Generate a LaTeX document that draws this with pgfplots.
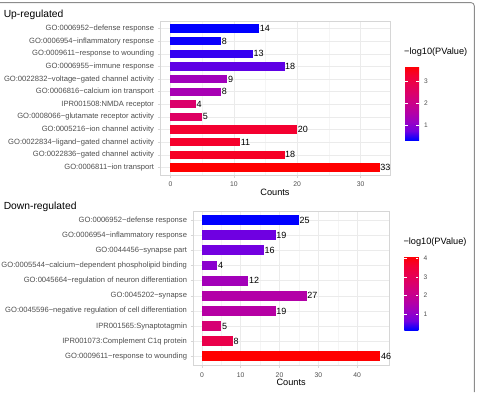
\documentclass[border=0pt]{standalone}
\usepackage{pgfplots}
\pgfplotsset{compat=1.18}
\usepackage{fontspec}
\setmainfont{Liberation Sans}

\definecolor{txtgray}{HTML}{4D4D4D}
\definecolor{gridmaj}{HTML}{EBEBEB}
\definecolor{gridmin}{HTML}{F5F5F5}
\definecolor{panelborder}{HTML}{D6D6D6}
\definecolor{framegray}{HTML}{8C8C8C}

\pgfplotsset{
  colormap={bluered}{rgb255=(0,0,255) rgb255=(115,0,224) rgb255=(154,0,195)
    rgb255=(181,0,165) rgb255=(202,0,137) rgb255=(218,0,108) rgb255=(232,0,79)
    rgb255=(244,0,49) rgb255=(255,0,0)},
  gopanel/.style={
    scale only axis, anchor=south west, clip=false,
    xbar, bar width=0.65,
    colormap name=bluered,
    axis line style={draw=panelborder, line width=0.6pt},
    grid=both,
    major grid style={draw=gridmaj, line width=0.5pt},
    minor grid style={draw=gridmin, line width=0.35pt},
    minor x tick num=1,
    tick align=outside,
    major tick length=2.5pt, minor tick length=0pt,
    tick style={draw=panelborder, line width=0.5pt},
    xtick pos=bottom, ytick pos=left,
    /pgf/number format/assume math mode=true,
    yticklabel style={font=\fontsize{7.6}{8}\selectfont, text=txtgray, inner sep=0pt, xshift=-3.3pt},
    xticklabel style={font=\fontsize{6.8}{7}\selectfont, text=txtgray, inner sep=0pt, yshift=-4.2pt},
    xlabel={Counts},
    xlabel style={font=\fontsize{9.2}{10}\selectfont, at={(axis description cs:0.5,0)},
      anchor=center, inner sep=0pt, yshift=-17.2pt},
    point meta=explicit,
    visualization depends on={x \as \cnt},
    nodes near coords={\pgfmathprintnumber[fixed, precision=0]{\cnt}},
    every node near coord/.append style={font=\fontsize{9}{10}\selectfont, text=black,
      anchor=west, inner sep=0.5pt},
    colorbar,
    colorbar style={
      scale only axis,
      at={(parent axis.north east)}, anchor=north west,
      xshift=6.5pt, yshift=-45pt,
      width=14pt, height=74pt,
      axis line style={draw=none},
      tick align=inside, ytick pos=both, yticklabel pos=right,
      major tick length=2.8pt,
      tick style={draw=white, line width=0.5pt},
      yticklabel style={font=\fontsize{6.6}{7}\selectfont, text=txtgray, inner sep=0pt, xshift=5pt},
      /pgf/number format/assume math mode=true,
      title={−log10(PValue)},
      title style={at={(0,1)}, anchor=south west, inner sep=0pt, xshift=-1pt, yshift=3.5pt,
        font=\fontsize{9.2}{10}\selectfont},
    },
  },
  % one bar; its fill is the colormap colour at position #1 (0..1000),
  % i.e. (-log10 p - min)/(max - min) scaled to 1000
  gobar/.style={xbar, bar shift=0pt, fill, draw=none, color of colormap={#1 of bluered}},
}

\begin{document}
\begin{tikzpicture}
% Up-regulated terms: (count, row) [-log10 p], range 0.36 .. 3.67
\begin{axis}[gopanel,
  at={(160pt,217pt)}, width=230pt, height=154pt,
  xmin=-1.65, xmax=34.65, ymin=0.4, ymax=12.6,
  xtick={0,10,20,30},
  ytick={1,...,12},
  yticklabels={
    GO:0006811\textasciitilde ion transport,
    GO:0022836\textasciitilde gated channel activity,
    GO:0022834\textasciitilde ligand−gated channel activity,
    GO:0005216\textasciitilde ion channel activity,
    GO:0008066\textasciitilde glutamate receptor activity,
    IPR001508:NMDA receptor,
    GO:0006816\textasciitilde calcium ion transport,
    GO:0022832\textasciitilde voltage−gated channel activity,
    GO:0006955\textasciitilde immune response,
    GO:0009611\textasciitilde response to wounding,
    GO:0006954\textasciitilde inflammatory response,
    GO:0006952\textasciitilde defense response},
  point meta min=0.36, point meta max=3.67,
  colorbar style={ytick={1,2,3}},
]
\addplot[gobar=1000] coordinates {(33,1) [3.67]};
\addplot[gobar=903]  coordinates {(18,2) [3.35]};
\addplot[gobar=888]  coordinates {(11,3) [3.30]};
\addplot[gobar=879]  coordinates {(20,4) [3.27]};
\addplot[gobar=662]  coordinates {(5,5) [2.55]};
\addplot[gobar=631]  coordinates {(4,6) [2.45]};
\addplot[gobar=314]  coordinates {(8,7) [1.40]};
\addplot[gobar=284]  coordinates {(9,8) [1.30]};
\addplot[gobar=103]  coordinates {(18,9) [0.70]};
\addplot[gobar=57]   coordinates {(13,10) [0.55]};
\addplot[gobar=12]   coordinates {(8,11) [0.40]};
\addplot[gobar=0]    coordinates {(14,12) [0.36]};
\end{axis}

% Down-regulated terms: (count, row) [-log10 p], range 0.14 .. 4.12
\begin{axis}[gopanel,
  at={(193pt,26.6pt)}, width=196.3pt, height=154.4pt,
  xmin=-2.3, xmax=48.3, ymin=0.4, ymax=10.6,
  xtick={0,10,20,30,40},
  ytick={1,...,10},
  yticklabels={
    GO:0009611\textasciitilde response to wounding,
    IPR001073:Complement C1q protein,
    IPR001565:Synaptotagmin,
    GO:0045596\textasciitilde negative regulation of cell differentiation,
    GO:0045202\textasciitilde synapse,
    GO:0045664\textasciitilde regulation of neuron differentiation,
    GO:0005544\textasciitilde calcium−dependent phospholipid binding,
    GO:0044456\textasciitilde synapse part,
    GO:0006954\textasciitilde inflammatory response,
    GO:0006952\textasciitilde defense response},
  point meta min=0.14, point meta max=4.12,
  colorbar style={ytick={1,2,3,4}},
]
\addplot[gobar=1000] coordinates {(46,1) [4.12]};
\addplot[gobar=769]  coordinates {(8,2) [3.20]};
\addplot[gobar=593]  coordinates {(5,3) [2.50]};
\addplot[gobar=379]  coordinates {(19,4) [1.65]};
\addplot[gobar=367]  coordinates {(27,5) [1.60]};
\addplot[gobar=291]  coordinates {(12,6) [1.30]};
\addplot[gobar=201]  coordinates {(4,7) [0.94]};
\addplot[gobar=126]  coordinates {(16,8) [0.64]};
\addplot[gobar=121]  coordinates {(19,9) [0.62]};
\addplot[gobar=0]    coordinates {(25,10) [0.14]};
\end{axis}

% panel titles
\node[anchor=base west, inner sep=0pt, font=\fontsize{10.3}{12}\selectfont] at (3.6pt,374.6pt) {Up-regulated};
\node[anchor=base west, inner sep=0pt, font=\fontsize{10.3}{12}\selectfont] at (3.6pt,182.9pt) {Down-regulated};

% figure frame
\draw[framegray, line width=0.9pt] (0pt,389.4pt) -- (471pt,389.4pt)
  arc[start angle=90, end angle=0, radius=3.3pt] -- (474.3pt,0pt);

\pgfresetboundingbox
\useasboundingbox (0pt,0pt) rectangle (478pt,392pt);
\end{tikzpicture}
\end{document}
